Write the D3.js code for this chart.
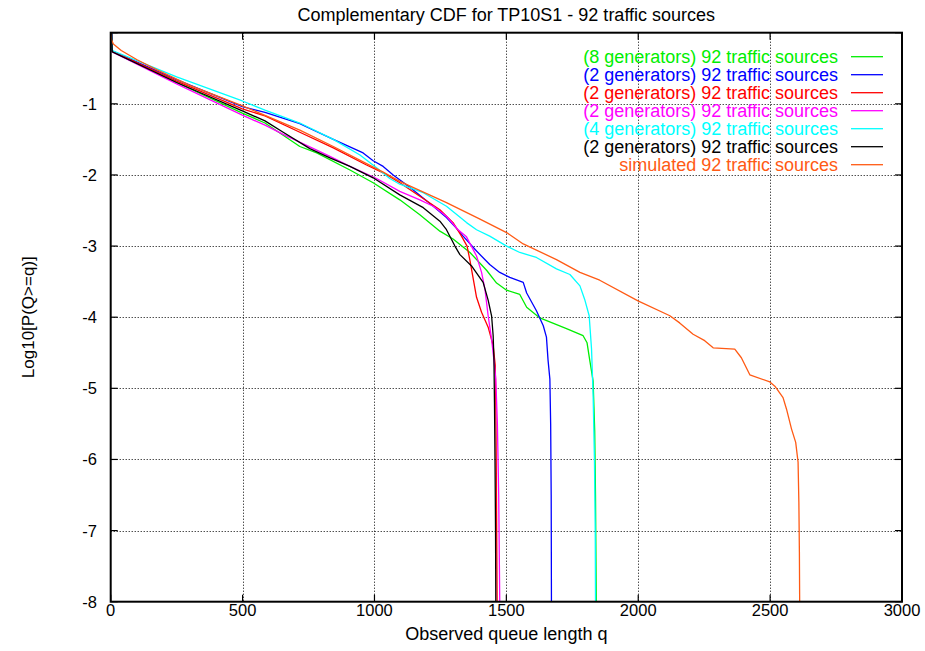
<!DOCTYPE html>
<html>
<head>
<meta charset="utf-8">
<script src="https://cdnjs.cloudflare.com/ajax/libs/d3/7.8.5/d3.min.js"></script>
<style>
  body { margin: 0; background: #fff; }
  text { font-family: "Liberation Sans", Arial, Helvetica, sans-serif; }
</style>
</head>
<body>
<div id="chart"></div>
<script>

// tick values
var xTicks = [0, 500, 1000, 1500, 2000, 2500, 3000];
var yTicks = [-1, -2, -3, -4, -5, -6, -7, -8];

// legend labels, in plot order
var labels = [
    "(8 generators) 92 traffic sources",
    "(2 generators) 92 traffic sources",
    "(2 generators) 92 traffic sources",
    "(2 generators) 92 traffic sources",
    "(4 generators) 92 traffic sources",
    "(2 generators) 92 traffic sources",
    "simulated 92 traffic sources"
];
var colors = ["#00ee00", "#0000ff", "#ff0000", "#ff00ff", "#00ffff", "#000000", "#ff5a14"];

// series: [q, log10 P(Q>=q)]
var gen8 = [[4,0],[6,-0.26],[250,-0.70],[499,-1.13],[585,-1.27],[717,-1.6],[781,-1.69],[907,-1.93],[995,-2.11],[1096,-2.35],
    [1172,-2.56],[1248,-2.79],[1298,-2.90],[1362,-3.09],[1425,-3.34],[1463,-3.52],[1501,-3.62],[1551,-3.68],[1577,-3.86],
    [1627,-4.01],[1728,-4.16],[1791,-4.26],[1806,-4.36],[1816,-4.6],[1829,-4.9],[1835,-5.6],[1838,-6.5],[1841,-8]];
var gen2a = [[4,0],[6,-0.26],[250,-0.66],[499,-1.04],[585,-1.12],[717,-1.28],[844,-1.50],[957,-1.69],[995,-1.80],[1033,-1.88],
    [1071,-2.0],[1147,-2.21],[1223,-2.44],[1273,-2.6],[1311,-2.75],[1336,-2.86],[1387,-3.07],[1437,-3.26],[1475,-3.37],
    [1513,-3.44],[1564,-3.51],[1577,-3.66],[1614,-3.91],[1640,-4.12],[1652,-4.28],[1658,-4.6],[1665,-4.87],[1668,-5.5],
    [1670,-6.5],[1671,-8]];
var gen2b = [[4,0],[6,-0.26],[250,-0.68],[499,-1.07],[585,-1.17],[717,-1.40],[844,-1.62],[970,-1.86],[1033,-1.97],[1096,-2.11],
    [1172,-2.30],[1248,-2.49],[1298,-2.67],[1330,-2.86],[1351,-3.0],[1362,-3.2],[1374,-3.45],[1387,-3.72],[1406,-3.93],
    [1431,-4.14],[1450,-4.4],[1458,-4.68],[1460,-5.2],[1462,-6.2],[1465,-8]];
var gen2c = [[4,0],[6,-0.27],[250,-0.72],[499,-1.16],[585,-1.30],[654,-1.43],[781,-1.65],[831,-1.74],[907,-1.88],[1008,-2.05],
    [1096,-2.23],[1172,-2.35],[1223,-2.44],[1273,-2.58],[1317,-2.77],[1349,-2.87],[1387,-3.14],[1406,-3.37],[1419,-3.61],
    [1431,-3.98],[1444,-4.31],[1454,-4.64],[1460,-4.87],[1466,-5.5],[1471,-6.5],[1475,-8]];
var gen4 = [[4,0],[6,-0.25],[250,-0.62],[499,-0.96],[585,-1.09],[717,-1.27],[844,-1.50],[945,-1.72],[1008,-1.90],[1058,-2.05],
    [1096,-2.13],[1185,-2.25],[1273,-2.44],[1349,-2.67],[1387,-2.77],[1437,-2.86],[1501,-3.0],[1551,-3.09],[1614,-3.16],
    [1690,-3.32],[1741,-3.40],[1779,-3.56],[1797,-3.75],[1814,-3.98],[1823,-4.45],[1829,-5.1],[1834,-6],[1837,-7],[1838,-8]];
var gen2d = [[4,0],[6,-0.27],[250,-0.70],[499,-1.10],[585,-1.24],[654,-1.40],[755,-1.63],[831,-1.76],[907,-1.88],[995,-2.04],
    [1096,-2.28],[1185,-2.46],[1248,-2.65],[1273,-2.77],[1305,-3.0],[1324,-3.12],[1368,-3.28],[1412,-3.51],[1431,-3.76],
    [1444,-3.98],[1450,-4.26],[1453,-4.6],[1455,-5.2],[1457,-6],[1459,-7],[1460,-8]];
var simulated = [[0,-0.02],[3,-0.1],[10,-0.16],[40,-0.25],[100,-0.38],[174,-0.52],[300,-0.74],[500,-1.03],[717,-1.37],
    [844,-1.60],[970,-1.84],[1033,-1.96],[1096,-2.09],[1273,-2.39],[1400,-2.62],[1501,-2.81],[1564,-2.97],[1690,-3.19],
    [1779,-3.37],[1854,-3.48],[1999,-3.77],[2120,-3.98],[2157,-4.08],[2208,-4.24],[2252,-4.33],[2284,-4.43],[2366,-4.45],
    [2391,-4.57],[2423,-4.81],[2499,-4.91],[2518,-4.97],[2549,-5.13],[2562,-5.29],[2581,-5.57],[2597,-5.76],[2606,-6.04],
    [2609,-6.6],[2611,-7.3],[2612,-8]];

var series = [gen8, gen2a, gen2b, gen2c, gen4, gen2d, simulated];

var W = 925, H = 651;
var plotL = 110.7, plotR = 902, plotT = 32.7, plotB = 601.7;
var tickLen = 7;

var svg = d3.select("#chart").append("svg")
    .attr("width", W)
    .attr("height", H);

var x = d3.scaleLinear().domain([0, 3000]).range([plotL, plotR]);
var y = d3.scaleLinear().domain([-8, 0]).range([plotB, plotT]);

// grid
var grid = svg.append("g").attr("class", "grid")
    .attr("stroke", "#000")
    .attr("stroke-width", 1)
    .attr("stroke-dasharray", "1,2");

grid.selectAll("line.gx")
    .data(xTicks.filter(function(d) { return d > 0 && d < 3000; }))
    .enter().append("line")
    .attr("x1", function(d) { return Math.round(x(d)) + 0.5; })
    .attr("x2", function(d) { return Math.round(x(d)) + 0.5; })
    .attr("y1", plotT)
    .attr("y2", plotB);

grid.selectAll("line.gy")
    .data(yTicks.filter(function(d) { return d > -8; }))
    .enter().append("line")
    .attr("x1", plotL)
    .attr("x2", plotR)
    .attr("y1", function(d) { return Math.round(y(d)) + 0.5; })
    .attr("y2", function(d) { return Math.round(y(d)) + 0.5; });

// inward ticks on all four sides
var ticks = svg.append("g").attr("stroke", "#000").attr("stroke-width", 1.2);
xTicks.forEach(function(d) {
    ticks.append("line").attr("x1", x(d)).attr("x2", x(d)).attr("y1", plotB).attr("y2", plotB - tickLen);
    ticks.append("line").attr("x1", x(d)).attr("x2", x(d)).attr("y1", plotT).attr("y2", plotT + tickLen);
});
yTicks.concat([0]).forEach(function(d) {
    ticks.append("line").attr("x1", plotL).attr("x2", plotL + tickLen).attr("y1", y(d)).attr("y2", y(d));
    ticks.append("line").attr("x1", plotR).attr("x2", plotR - tickLen).attr("y1", y(d)).attr("y2", y(d));
});

// tick labels
svg.append("g").selectAll("text")
    .data(xTicks)
    .enter().append("text")
    .attr("x", function(d) { return x(d); })
    .attr("y", 616)
    .attr("text-anchor", "middle")
    .style("font-size", "16.5px")
    .text(function(d) { return d; });

svg.append("g").selectAll("text")
    .data(yTicks)
    .enter().append("text")
    .attr("x", 97)
    .attr("y", function(d) { return y(d) + 6; })
    .attr("text-anchor", "end")
    .style("font-size", "16.5px")
    .text(function(d) { return d; });

// curves
svg.append("clipPath").attr("id", "plotclip")
    .append("rect")
    .attr("x", plotL).attr("y", plotT)
    .attr("width", plotR - plotL).attr("height", plotB - plotT);

var line = d3.line()
    .x(function(d) { return x(d[0]); })
    .y(function(d) { return y(d[1]); });

svg.append("g").attr("clip-path", "url(#plotclip)")
    .selectAll("path")
    .data(series)
    .enter().append("path")
    .attr("d", line)
    .attr("fill", "none")
    .attr("stroke", function(d, i) { return colors[i]; })
    .attr("stroke-width", 1.3)
    .attr("stroke-linejoin", "round");

// border
svg.append("rect")
    .attr("x", plotL).attr("y", plotT)
    .attr("width", plotR - plotL).attr("height", plotB - plotT)
    .attr("fill", "none")
    .attr("stroke", "#000")
    .attr("stroke-width", 2);

// legend
var legend = svg.append("g").attr("class", "legend");
labels.forEach(function(t, i) {
    var ly = 56.7 + i * 18;
    legend.append("text")
        .attr("x", 838)
        .attr("y", ly + 6)
        .attr("text-anchor", "end")
        .attr("fill", colors[i])
        .style("font-size", "18px")
        .text(t);
    legend.append("line")
        .attr("x1", 851).attr("x2", 883)
        .attr("y1", ly).attr("y2", ly)
        .attr("stroke", colors[i])
        .attr("stroke-width", 1.3);
});

// titles
svg.append("text")
    .attr("x", (plotL + plotR) / 2)
    .attr("y", 21)
    .attr("text-anchor", "middle")
    .style("font-size", "18px")
    .text("Complementary CDF for TP10S1 - 92 traffic sources");

svg.append("text")
    .attr("x", (plotL + plotR) / 2)
    .attr("y", 640)
    .attr("text-anchor", "middle")
    .style("font-size", "18px")
    .text("Observed queue length q");

svg.append("text")
    .attr("transform", "translate(34," + ((plotT + plotB) / 2) + ") rotate(-90)")
    .attr("text-anchor", "middle")
    .style("font-size", "17px")
    .text("Log10[P(Q>=q)]");

</script>
</body>
</html>
